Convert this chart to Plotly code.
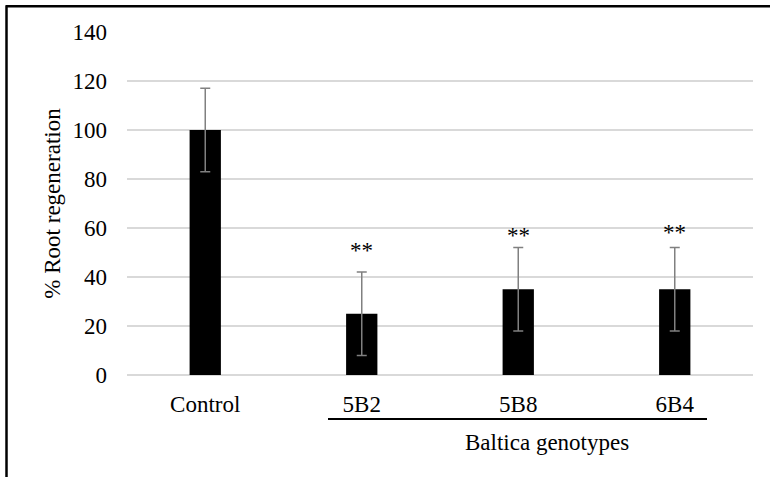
import plotly.graph_objects as go

# Root regeneration relative to control (%)
categories = ["Control", "5B2", "5B8", "6B4"]
regeneration = [100, 25, 35, 35]
std_err = [17, 17, 17, 17]
sig_marks = ["", "**", "**", "**"]
sig_y = [0, 51, 57, 58]
y_ticks = [0, 20, 40, 60, 80, 100, 120, 140]
group_label = "Baltica genotypes"
y_title = "% Root regeneration"

W, H = 770, 477
L, R, T, B = 127, 17, 31.7, 102
FONT = "Liberation Serif, Times New Roman, serif"
FS = 23

fig = go.Figure()
fig.add_trace(go.Bar(
    x=categories,
    y=regeneration,
    marker=dict(color="black", line=dict(width=0)),
    error_y=dict(type="data", array=std_err, visible=True,
                 color="#808080", thickness=1.5, width=5),
    width=0.2,
))

# significance stars above the genotype bars
for cat, mark, yy in zip(categories, sig_marks, sig_y):
    if mark:
        fig.add_annotation(x=cat, y=yy, text=mark, showarrow=False,
                           xref="x", yref="y", yanchor="middle",
                           font=dict(family=FONT, size=FS, color="black"))

# bracket under the genotype labels with group caption
pw = W - L - R
ph = H - T - B
def px_to_xdata(px):
    return (px - L) / (pw / len(categories)) - 0.5
def py_to_paper(py):
    return (H - B - py) / ph

fig.add_shape(type="line", xref="x", yref="paper",
              x0=px_to_xdata(328), x1=px_to_xdata(707),
              y0=py_to_paper(419), y1=py_to_paper(419),
              line=dict(color="black", width=2))
fig.add_annotation(x=px_to_xdata(547), y=py_to_paper(443), xref="x", yref="paper",
                   text=group_label, showarrow=False, yanchor="middle",
                   font=dict(family=FONT, size=FS, color="black"))

# outer frame (top and left edges)
def px_to_paperx(px):
    return (px - L) / pw
fig.add_shape(type="line", xref="paper", yref="paper",
              x0=px_to_paperx(6), x1=px_to_paperx(772),
              y0=py_to_paper(6), y1=py_to_paper(6),
              line=dict(color="black", width=2.5))
fig.add_shape(type="line", xref="paper", yref="paper",
              x0=px_to_paperx(6.5), x1=px_to_paperx(6.5),
              y0=py_to_paper(5), y1=py_to_paper(480),
              line=dict(color="black", width=2.5))

fig.update_layout(
    width=W, height=H,
    margin=dict(l=L, r=R, t=T, b=B, pad=0),
    paper_bgcolor="white", plot_bgcolor="white",
    showlegend=False,
    font=dict(family=FONT, size=FS, color="black"),
    xaxis=dict(type="category", range=[-0.5, 3.5], showgrid=False,
               showline=False, ticks="", ticklabelstandoff=13,
               tickfont=dict(family=FONT, size=FS, color="black")),
    yaxis=dict(range=[0, 140], tickvals=y_ticks, showgrid=True,
               gridcolor="#d9d9d9", gridwidth=1.5, zeroline=True,
               zerolinecolor="#d9d9d9", zerolinewidth=1.5, showline=False,
               ticks="", ticklabelstandoff=19,
               tickfont=dict(family=FONT, size=FS, color="black"),
               title=dict(text=y_title, standoff=5,
                          font=dict(family=FONT, size=FS, color="black"))),
)

fig.write_html("out.html")
